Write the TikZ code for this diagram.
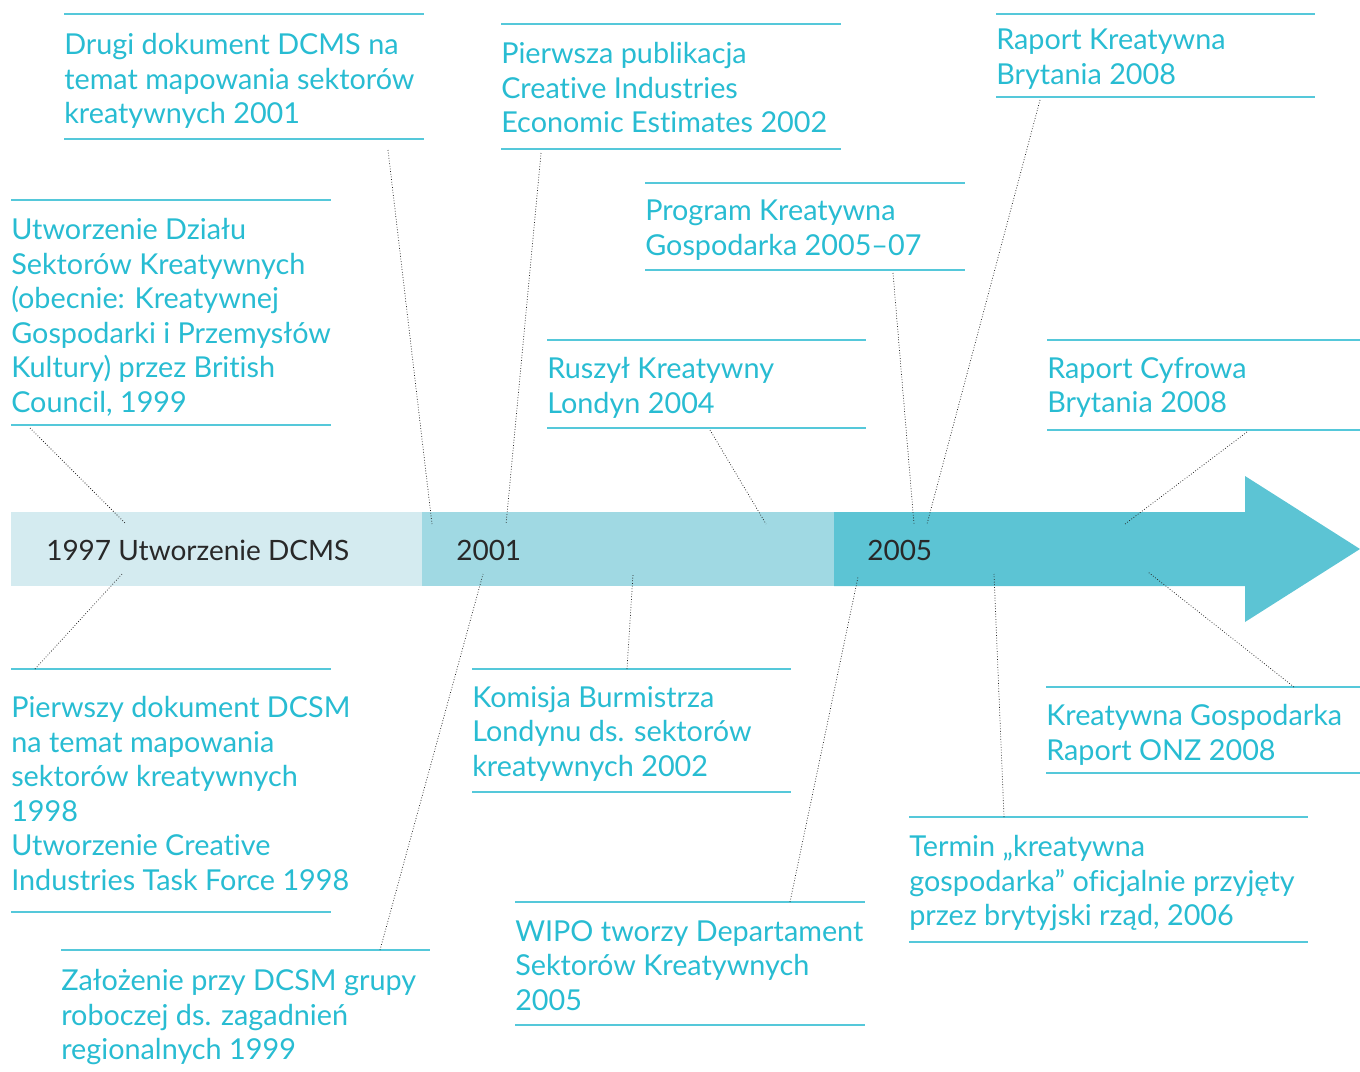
\documentclass[tikz,border=0pt]{standalone}
\usepackage{fontspec}
\setmainfont{Lato}[Ligatures=NoCommon]
\definecolor{evteal}{RGB}{40,188,210}
\definecolor{ruleteal}{RGB}{85,200,218}
\definecolor{bandlight}{RGB}{212,235,240}
\definecolor{bandmid}{RGB}{160,217,227}
\definecolor{banddark}{RGB}{92,196,212}
\definecolor{yeargray}{RGB}{40,40,40}

\begin{document}
\begin{tikzpicture}[
    x=0.75pt, y=-0.75pt,
    event/.style={anchor=north west, inner sep=0pt, align=left,
                  text=evteal, font=\fontsize{21.6}{25.9}\selectfont,
                  execute at begin node=\strut},
    yearlbl/.style={anchor=base west, inner sep=0pt, text=yeargray,
                    font=\fontsize{21}{25.9}\selectfont},
    hrule/.style={draw=ruleteal, line width=1.1pt},
    lead/.style={draw=black!85, line width=0.55pt, dash pattern=on 0.6pt off 1.4pt},
]
\useasboundingbox (0,0) rectangle (1360,1071);

% timeline arrow
\fill[bandlight] (11,512) rectangle (422,586);
\fill[bandmid] (422,512) rectangle (834,586);
\fill[banddark] (834,512) -- (1245,512) -- (1245,476) -- (1360,549)
    -- (1245,622) -- (1245,586) -- (834,586) -- cycle;

\node[yearlbl] (y1997) at (46,560) {1997 Utworzenie DCMS};
\node[yearlbl] (y2001) at (456,560) {2001};
\node[yearlbl] (y2005) at (867,560) {2005};

% events above the arrow
\node[event] (drugi) at (64,33)
    {Drugi dokument DCMS na\\temat mapowania sektorów\\kreatywnych 2001};
\node[event] (pierwsza) at (501,42)
    {Pierwsza publikacja\\Creative Industries\\Economic Estimates 2002};
\node[event] (raportkb) at (996,29)
    {Raport Kreatywna\\Brytania 2008};
\node[event] (program) at (645,200)
    {Program Kreatywna\\Gospodarka 2005–07};
\node[event] (dzial) at (11,218)
    {Utworzenie Działu\\Sektorów Kreatywnych\\(obecnie: Kreatywnej\\Gospodarki i Przemysłów\\Kultury) przez British\\Council, 1999};
\node[event] (londyn) at (547,357)
    {Ruszył Kreatywny\\Londyn 2004};
\node[event] (cyfrowa) at (1047,357)
    {Raport Cyfrowa\\Brytania 2008};

% events below the arrow
\node[event] (pierwszy) at (11,696)
    {Pierwszy dokument DCSM\\na temat mapowania\\sektorów kreatywnych\\1998\\Utworzenie Creative\\Industries Task Force 1998};
\node[event] (zalozenie) at (61,969)
    {Założenie przy DCSM grupy\\roboczej ds. zagadnień\\regionalnych 1999};
\node[event] (komisja) at (472,686)
    {Komisja Burmistrza\\Londynu ds. sektorów\\kreatywnych 2002};
\node[event] (wipo) at (515,920)
    {WIPO tworzy Departament\\Sektorów Kreatywnych\\2005};
\node[event] (termin) at (909,835)
    {Termin „kreatywna\\gospodarka” oficjalnie przyjęty\\przez brytyjski rząd, 2006};
\node[event] (onz) at (1046,704)
    {Kreatywna Gospodarka\\Raport ONZ 2008};

% rules above and below each event
\foreach \xa/\xb/\ya in {64/424/14, 64/424/139, 501/841/24, 501/841/149,
    996/1315/14, 996/1315/97, 645/965/183, 645/965/270,
    11/331/200, 11/331/425, 547/866/340, 547/866/428,
    1047/1360/340, 1047/1360/430, 11/331/669, 11/331/912,
    61/430/950, 472/791/669, 472/791/792, 515/865/902, 515/865/1025,
    909/1308/817, 909/1308/942, 1046/1360/687, 1046/1360/773}
  \draw[hrule] (\xa,\ya) -- (\xb,\ya);

% leader ends
\coordinate (drugi-e) at (388,150);     \coordinate (drugi-t) at (432,524);
\coordinate (pierwsza-e) at (541,153);  \coordinate (pierwsza-t) at (506,524);
\coordinate (raportkb-e) at (1040,100); \coordinate (raportkb-t) at (927,524);
\coordinate (program-e) at (893,273);   \coordinate (program-t) at (914,524);
\coordinate (dzial-e) at (30,428);      \coordinate (dzial-t) at (126,524);
\coordinate (londyn-e) at (710,430);    \coordinate (londyn-t) at (766,524);
\coordinate (cyfrowa-e) at (1247,432);  \coordinate (cyfrowa-t) at (1125,524);
\coordinate (pierwszy-e) at (35,669);   \coordinate (pierwszy-t) at (122,574);
\coordinate (zalozenie-e) at (380,950); \coordinate (zalozenie-t) at (483,574);
\coordinate (komisja-e) at (627,669);   \coordinate (komisja-t) at (633,574);
\coordinate (wipo-e) at (790,902);      \coordinate (wipo-t) at (858,577);
\coordinate (termin-e) at (1004,817);   \coordinate (termin-t) at (994,574);
\coordinate (onz-e) at (1294,687);      \coordinate (onz-t) at (1148,572);

\foreach \ev in {drugi, pierwsza, raportkb, program, dzial, londyn, cyfrowa,
    pierwszy, zalozenie, komisja, wipo, termin, onz}
  \draw[lead] (\ev-e) -- (\ev-t);

\end{tikzpicture}
\end{document}
